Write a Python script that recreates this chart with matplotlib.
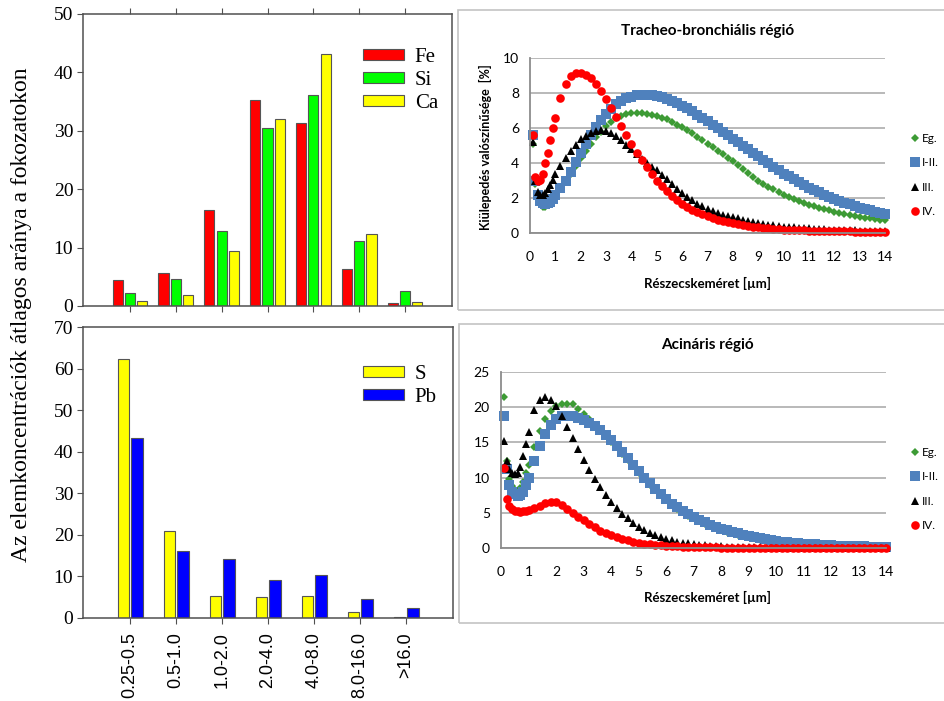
import numpy as np
import matplotlib.pyplot as plt
from matplotlib.patches import Rectangle

# ---- bar chart data ----
categories = ['0.25-0.5', '0.5-1.0', '1.0-2.0', '2.0-4.0', '4.0-8.0', '8.0-16.0', '>16.0']
fe = [4.5, 5.6, 16.5, 35.2, 31.3, 6.4, 0.5]
si = [2.3, 4.7, 12.9, 30.5, 36.1, 11.1, 2.5]
ca = [0.9, 1.8, 9.4, 32.1, 43.1, 12.4, 0.6]
s_vals = [62.2, 21.0, 5.4, 5.0, 5.3, 1.4, 0.15]
pb_vals = [43.2, 16.1, 14.2, 9.1, 10.4, 4.5, 2.5]

# ---- deposition curves (particle size, um) ----
size = [0.1, 0.2, 0.3, 0.4, 0.5, 0.6, 0.7, 0.8, 0.9, 1.0,
        1.2, 1.4, 1.6, 1.8, 2.0, 2.2, 2.4, 2.6, 2.8, 3.0,
        3.2, 3.4, 3.6, 3.8, 4.0, 4.2, 4.4, 4.6, 4.8, 5.0,
        5.2, 5.4, 5.6, 5.8, 6.0, 6.2, 6.4, 6.6, 6.8, 7.0,
        7.2, 7.4, 7.6, 7.8, 8.0, 8.2, 8.4, 8.6, 8.8, 9.0,
        9.2, 9.4, 9.6, 9.8, 10.0, 10.2, 10.4, 10.6, 10.8, 11.0,
        11.2, 11.4, 11.6, 11.8, 12.0, 12.2, 12.4, 12.6, 12.8, 13.0,
        13.2, 13.4, 13.6, 13.8, 14.0]

tb_eg = [5.1, 2.8, 2.0, 1.65, 1.5, 1.5, 1.6, 1.75, 1.95, 2.15,
         2.6, 3.0, 3.4, 3.85, 4.3, 4.7, 5.1, 5.5, 5.8, 6.1,
         6.35, 6.55, 6.7, 6.8, 6.85, 6.85, 6.85, 6.8, 6.75, 6.7,
         6.6, 6.5, 6.35, 6.2, 6.05, 5.9, 5.7, 5.5, 5.3, 5.1,
         4.9, 4.7, 4.5, 4.3, 4.1, 3.87, 3.64, 3.41, 3.18, 2.95,
         2.8, 2.65, 2.5, 2.35, 2.2, 2.07, 1.95, 1.83, 1.72, 1.6,
         1.52, 1.44, 1.37, 1.3, 1.22, 1.15, 1.09, 1.03, 0.97, 0.92,
         0.88, 0.84, 0.8, 0.76, 0.72]
tb_12 = [5.6, 3.0, 2.2, 1.85, 1.7, 1.65, 1.7, 1.8, 1.95, 2.15,
         2.55, 3.0, 3.5, 4.05, 4.6, 5.1, 5.6, 6.05, 6.45, 6.8,
         7.1, 7.35, 7.55, 7.7, 7.8, 7.87, 7.9, 7.9, 7.87, 7.82,
         7.75, 7.65, 7.55, 7.42, 7.28, 7.12, 6.95, 6.77, 6.58, 6.4,
         6.2, 6.0, 5.8, 5.6, 5.4, 5.2, 5.0, 4.8, 4.6, 4.4,
         4.2, 4.0, 3.8, 3.6, 3.4, 3.24, 3.08, 2.92, 2.76, 2.6,
         2.46, 2.32, 2.19, 2.06, 1.94, 1.83, 1.73, 1.63, 1.54, 1.45,
         1.37, 1.29, 1.22, 1.16, 1.1]
tb_3 = [5.2, 3.0, 2.35, 2.2, 2.2, 2.3, 2.5, 2.75, 3.05, 3.35,
        3.85, 4.3, 4.7, 5.05, 5.35, 5.55, 5.72, 5.83, 5.88, 5.85,
        5.72, 5.52, 5.3, 5.05, 4.78, 4.5, 4.24, 4.0, 3.8, 3.6,
        3.32, 3.06, 2.8, 2.52, 2.26, 2.05, 1.86, 1.68, 1.52, 1.37,
        1.25, 1.15, 1.05, 0.97, 0.9, 0.83, 0.76, 0.7, 0.63, 0.57,
        0.52, 0.48, 0.44, 0.4, 0.37, 0.34, 0.32, 0.3, 0.28, 0.26,
        0.24, 0.23, 0.21, 0.2, 0.19, 0.18, 0.17, 0.16, 0.15, 0.14,
        0.14, 0.13, 0.12, 0.12, 0.11]
tb_4 = [5.6, 3.2, 3.0, 3.05, 3.4, 4.0, 4.6, 5.3, 6.0, 6.6,
        7.7, 8.5, 8.95, 9.15, 9.15, 9.05, 8.85, 8.5, 8.1, 7.65,
        7.15, 6.62, 6.1, 5.58, 5.08, 4.6, 4.18, 3.78, 3.38, 3.0,
        2.68, 2.38, 2.1, 1.87, 1.66, 1.48, 1.33, 1.19, 1.06, 0.95,
        0.85, 0.76, 0.68, 0.61, 0.55, 0.49, 0.44, 0.4, 0.36, 0.32,
        0.29, 0.26, 0.24, 0.22, 0.2, 0.18, 0.17, 0.16, 0.15, 0.14,
        0.13, 0.12, 0.11, 0.11, 0.1, 0.1, 0.09, 0.09, 0.08, 0.08,
        0.08, 0.07, 0.07, 0.07, 0.07]

ac_eg = [21.5, 12.3, 9.8, 8.8, 8.3, 8.1, 8.5, 9.4, 10.6, 11.8,
         14.3, 16.6, 18.3, 19.5, 20.1, 20.4, 20.5, 20.4, 19.8, 19.1,
         18.3, 17.5, 16.7, 15.9, 15.1, 14.3, 13.4, 12.5, 11.6, 10.7,
         9.8, 9.0, 8.2, 7.5, 6.8, 6.2, 5.6, 5.1, 4.6, 4.2,
         3.8, 3.45, 3.1, 2.8, 2.55, 2.3, 2.08, 1.88, 1.7, 1.53,
         1.38, 1.25, 1.12, 1.01, 0.91, 0.82, 0.74, 0.67, 0.6, 0.54,
         0.49, 0.44, 0.4, 0.36, 0.33, 0.3, 0.27, 0.25, 0.23, 0.21,
         0.19, 0.17, 0.16, 0.15, 0.14]
ac_12 = [18.7, 11.2, 9.0, 8.0, 7.6, 7.4, 7.5, 8.0, 8.9, 10.0,
         12.4, 14.5, 16.2, 17.5, 18.3, 18.7, 18.8, 18.7, 18.5, 18.2,
         17.8, 17.3, 16.7, 16.0, 15.3, 14.5, 13.7, 12.8, 11.8, 10.9,
         10.0, 9.2, 8.4, 7.6, 6.9, 6.3, 5.8, 5.3, 4.8, 4.4,
         4.0, 3.65, 3.3, 3.0, 2.75, 2.5, 2.27, 2.06, 1.86, 1.68,
         1.52, 1.38, 1.25, 1.13, 1.02, 0.92, 0.83, 0.75, 0.68, 0.62,
         0.56, 0.51, 0.46, 0.42, 0.38, 0.35, 0.32, 0.29, 0.26, 0.24,
         0.22, 0.2, 0.18, 0.17, 0.16]
ac_3 = [15.2, 12.3, 11.2, 10.6, 10.5, 10.6, 11.5, 13.0, 14.8, 16.5,
        19.6, 21.0, 21.5, 21.0, 20.1, 18.7, 17.2, 15.6, 14.0, 12.5,
        11.1, 9.8, 8.6, 7.5, 6.6, 5.7, 4.9, 4.2, 3.6, 3.05,
        2.6, 2.2, 1.85, 1.55, 1.3, 1.1, 0.92, 0.77, 0.64, 0.53,
        0.44, 0.37, 0.31, 0.26, 0.22, 0.19, 0.16, 0.14, 0.12, 0.1,
        0.09, 0.08, 0.07, 0.06, 0.06, 0.05, 0.05, 0.04, 0.04, 0.04,
        0.03, 0.03, 0.03, 0.03, 0.03, 0.03, 0.03, 0.03, 0.03, 0.03,
        0.03, 0.03, 0.03, 0.03, 0.03]
ac_4 = [11.3, 7.0, 5.9, 5.5, 5.3, 5.2, 5.15, 5.2, 5.3, 5.4,
        5.7, 6.0, 6.35, 6.6, 6.6, 6.1, 5.55, 4.95, 4.4, 3.95,
        3.45, 2.95, 2.45, 2.1, 1.8, 1.52, 1.3, 1.1, 0.92, 0.76,
        0.63, 0.53, 0.44, 0.37, 0.31, 0.26, 0.22, 0.19, 0.16, 0.14,
        0.12, 0.1, 0.09, 0.08, 0.07, 0.06, 0.05, 0.05, 0.04, 0.04,
        0.03, 0.03, 0.03, 0.03, 0.03, 0.03, 0.03, 0.03, 0.03, 0.03,
        0.02, 0.02, 0.02, 0.02, 0.02, 0.02, 0.02, 0.02, 0.02, 0.02,
        0.02, 0.02, 0.02, 0.02, 0.02]

W, H = 944, 701


def fx(x):
    return x / W


def fy(y):
    return 1 - y / H


def box(l, t, r, b):
    # pixel box -> figure rect
    return [fx(l), fy(b), (r - l) / W, (b - t) / H]


fig = plt.figure(figsize=(W / 100, H / 100), dpi=100)
serif = 'Liberation Serif'
sans = 'Liberation Sans'
xl = 'Lato'

# ---------- left: bar charts ----------
pos = np.arange(len(categories))
dark = '#505050'


def style_bar_axes(ax, top_ticks):
    ax.set_xlim(-1.02, 7.02)
    for sp in ax.spines.values():
        sp.set_color(dark)
        sp.set_linewidth(1.1)
    ax.set_xticks(pos)
    ax.tick_params(axis='x', direction='out', length=4, color=dark,
                   top=top_ticks, bottom=True)
    ax.tick_params(axis='y', direction='out', length=4, color=dark, pad=3,
                   labelsize=14)
    for lab in ax.get_yticklabels():
        lab.set_fontfamily(serif)


ax1 = fig.add_axes(box(83, 14, 452, 306))
bw = 0.22
ax1.bar(pos - 0.265, fe, bw, color='#ff0000', edgecolor='#555555', lw=0.8, label='Fe')
ax1.bar(pos, si, bw, color='#00ff00', edgecolor='#555555', lw=0.8, label='Si')
ax1.bar(pos + 0.265, ca, bw, color='#ffff00', edgecolor='#555555', lw=0.8, label='Ca')
ax1.set_ylim(0, 50)
ax1.set_yticks([0, 10, 20, 30, 40, 50])
style_bar_axes(ax1, True)
ax1.set_xticklabels([])
ax1.legend(loc='upper left', bbox_to_anchor=(fx(344), fy(29)), bbox_transform=fig.transFigure,
           frameon=False, prop={'family': serif, 'size': 15}, handlelength=2.0,
           handleheight=0.4, handletextpad=0.5, labelspacing=0.2)

ax2 = fig.add_axes(box(83, 327, 453, 618))
bw2 = 0.25
ax2.bar(pos - 0.14, s_vals, bw2, color='#ffff00', edgecolor='#555555', lw=0.8, label='S')
ax2.bar(pos + 0.15, pb_vals, bw2, color='#0000ff', edgecolor='#555555', lw=0.8, label='Pb')
ax2.set_ylim(0, 70)
ax2.set_yticks([0, 10, 20, 30, 40, 50, 60, 70])
style_bar_axes(ax2, False)
ax2.set_xticklabels(categories, rotation=90, fontfamily=sans, fontsize=13)
ax2.tick_params(axis='x', pad=6)
ax2.legend(loc='upper left', bbox_to_anchor=(fx(344), fy(346)), bbox_transform=fig.transFigure,
           frameon=False, prop={'family': serif, 'size': 15}, handlelength=2.0,
           handleheight=0.4, handletextpad=0.5, labelspacing=0.2)

fig.text(fx(22), fy(315), 'Az elemkoncentrációk átlagos aránya a fokozatokon',
         rotation=90, ha='center', va='center', fontfamily=serif, fontsize=17)

# ---------- right: deposition curves ----------
for (l, t, r, b) in [(458, 10, 960, 310), (459, 324, 960, 623)]:
    fig.patches.append(Rectangle((fx(l), fy(b)), (r - l) / W, (b - t) / H,
                                 transform=fig.transFigure, fill=False,
                                 edgecolor='#c4c4c4', lw=1.2))

series = [('Eg.', 'D', '#3d9b35', 3.8),
          ('I-II.', 's', '#4f81bd', 6.6),
          ('III.', '^', 'black', 5.6),
          ('IV.', 'o', '#ff0000', 6.2)]


def curve_axes(rect, ys, ymax, ystep, leg_y):
    ax = fig.add_axes(rect)
    for (name, mk, col, ms), y in zip(series, ys):
        ax.plot(size, y, linestyle='none', marker=mk, color=col, ms=ms,
                mew=0, label=name, clip_on=False)
    ax.set_xlim(0, 14)
    ax.set_ylim(0, ymax)
    ax.set_xticks(range(0, 15))
    ax.set_yticks(np.arange(0, ymax + 0.1, ystep))
    ax.yaxis.grid(True, color='#a6a6a6', lw=1.1)
    ax.set_axisbelow(True)
    for side in ['top', 'right']:
        ax.spines[side].set_visible(False)
    for side in ['left', 'bottom']:
        ax.spines[side].set_color('#8c8c8c')
        ax.spines[side].set_linewidth(1.3)
    ax.tick_params(length=0, labelsize=10)
    ax.tick_params(axis='x', pad=13)
    ax.tick_params(axis='y', pad=8)
    for lab in ax.get_xticklabels() + ax.get_yticklabels():
        lab.set_fontfamily(xl)
    ax.legend(loc='center left', bbox_to_anchor=(fx(901), fy(leg_y)),
              bbox_transform=fig.transFigure, frameon=False, numpoints=1,
              prop={'family': xl, 'size': 8.5}, handlelength=0.8,
              handletextpad=0.15, labelspacing=1.15, borderpad=0.3)
    return ax


ax3 = curve_axes(box(530, 58, 885, 233), [tb_eg, tb_12, tb_3, tb_4], 10, 2, 175)
ax4 = curve_axes(box(501, 372, 886, 548), [ac_eg, ac_12, ac_3, ac_4], 25, 5, 489)

fig.text(fx(708), fy(31), 'Tracheo-bronchiális régió', ha='center', va='center',
         fontfamily=xl, fontweight='bold', fontsize=11)
fig.text(fx(707), fy(283), 'Részecskeméret [µm]', ha='center', va='center',
         fontfamily=xl, fontweight='bold', fontsize=9.5)
fig.text(fx(485), fy(147), 'Kiülepedés valószínűsége  [%]', rotation=90,
         ha='center', va='center', fontfamily=xl, fontweight='bold', fontsize=9)
fig.text(fx(707), fy(345), 'Acináris régió', ha='center', va='center',
         fontfamily=xl, fontweight='bold', fontsize=11)
fig.text(fx(707), fy(597), 'Részecskeméret [µm]', ha='center', va='center',
         fontfamily=xl, fontweight='bold', fontsize=9.5)

fig.savefig('out.png', dpi=100, facecolor='white')
